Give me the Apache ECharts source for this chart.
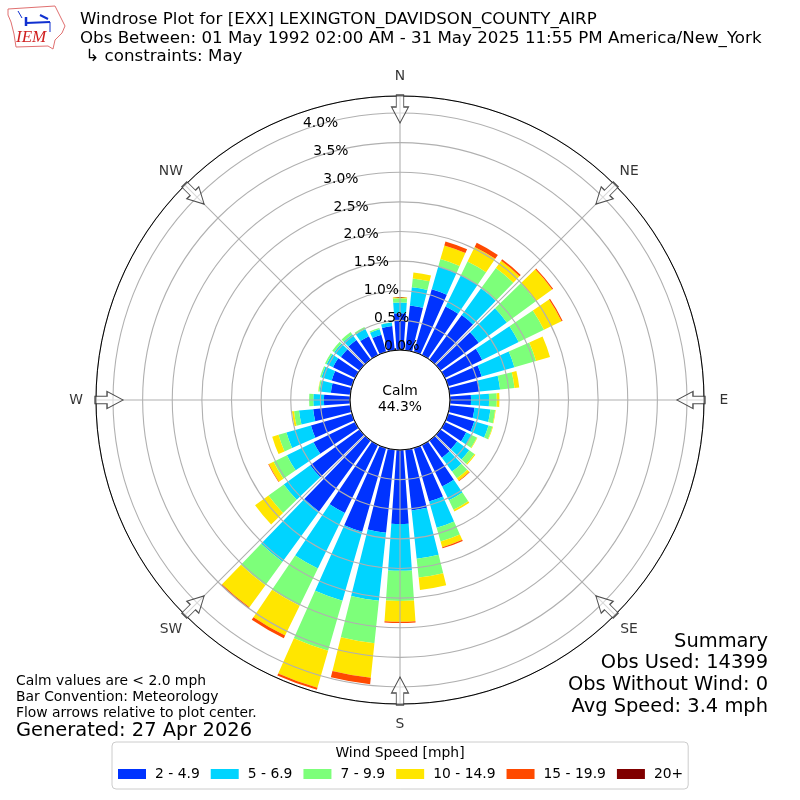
<!DOCTYPE html>
<html><head><meta charset="utf-8">
<script src="https://cdn.jsdelivr.net/npm/echarts@6/dist/echarts.min.js"></script>
<style>html,body{margin:0;padding:0;background:#fff}#c{width:800px;height:800px}</style>
</head><body><div id="c"></div>
<script>
const directions = [0,10,20,30,40,50,60,70,80,90,100,110,120,130,140,150,160,170,180,190,200,210,220,230,240,250,260,270,280,290,300,310,320,330,340,350];
const band1 = [.62,.76,1.10,.91,.93,.80,.70,.59,.51,.355,.42,.46,.40,.35,.36,.78,.94,1.03,1.25,1.41,1.47,1.28,1.48,1.03,.78,.72,.63,.44,.33,.355,.415,.39,.41,.355,.30,.41];
const band2 = [.18,.31,.40,.59,.555,.585,.685,.575,.345,.305,.27,.25,.10,.25,.29,.26,.46,.82,.79,1.155,1.21,1.04,1.05,.55,.50,.43,.24,.18,.19,.18,.12,.14,.115,.135,.10,.06];
const band3 = [.075,.15,.13,.255,.425,.605,.475,.38,.245,.13,.08,.07,.10,.11,.14,.175,.24,.32,.51,.72,.88,.70,.49,.32,.25,.14,.085,.07,.02,.025,.03,.04,.05,.035,.02,.005];
const band4 = [.015,.10,.24,.275,.15,.34,.33,.245,.08,.045,.01,.01,.01,.02,.05,.035,.10,.21,.35,.585,.65,.56,.46,.28,.09,.11,.035,0,.005,0,0,0,0,0,0,0];
const band5 = [0,0,.07,.08,.03,.02,.02,0,0,0,0,0,0,0,.01,0,.02,0,.02,.11,.035,.05,.02,0,.01,0,0,0,0,0,0,0,0,0,0,0];
const band6 = [0,0,0,0,0,0,0,0,0,0,0,0,0,0,0,0,0,0,0,0,0,0,0,0,0,0,0,0,0,0,0,0,0,0,0,0];
const bandNames = ['2 - 4.9','5 - 6.9','7 - 9.9','10 - 14.9','15 - 19.9','20+'];
const bandColors = ['#0033ff','#00d4ff','#7dff7a','#ffe600','#ff4a00','#800000'];
const compass = {0:'N',45:'NE',90:'E',135:'SE',180:'S',225:'SW',270:'W',315:'NW'};
const compassAngles = [0,45,90,135,180,225,270,315];
const titleLines = ['Windrose Plot for [EXX] LEXINGTON_DAVIDSON_COUNTY_AIRP','Obs Between: 01 May 1992 02:00 AM - 31 May 2025 11:55 PM America/New_York',' \u21b3 constraints: May'];
const noteLines = ['Calm values are < 2.0 mph','Bar Convention: Meteorology','Flow arrows relative to plot center.'];
const summaryLines = ['Summary','Obs Used: 14399','Obs Without Wind: 0','Avg Speed: 3.4 mph'];
const FONT = '"DejaVu Sans"';
const GRID = '#b0b0b0';
const RMAX = 4.287, ARROW_R = 4.067, LABEL_R = 4.624;

const bands = [band1,band2,band3,band4,band5,band6];
const series = bands.map((vals,i)=>({
  type:'bar', name:bandNames[i], coordinateSystem:'polar', polarIndex:0, stack:'wind', z:2,
  barWidth:'80%', itemStyle:{color:bandColors[i]}, silent:true, animation:false,
  data:vals.map((v,j)=>[v,directions[j]])
}));
series.push({
  type:'scatter', name:'arrows', coordinateSystem:'polar', polarIndex:0, z:6, clip:false, silent:true,
  symbol:'path://M4.5 0 L11.5 0 L11.5 12 L16 12 L8 28 L0 12 L4.5 12 Z', symbolSize:[17,28], symbolKeepAspect:false,
  symbolRotate:(v,p)=>-p.data[1],
  itemStyle:{color:'rgba(255,255,255,0.65)',borderColor:'#222',borderWidth:1.1},
  data:compassAngles.map(a=>[ARROW_R,a])
});
series.push({
  type:'scatter', name:'compass', coordinateSystem:'polar', polarIndex:0, z:6, clip:false, silent:true,
  symbolSize:1, itemStyle:{color:'transparent'},
  label:{show:true,position:'inside',fontFamily:FONT,fontSize:13.89,color:'#000',formatter:p=>compass[p.data[1]]},
  data:compassAngles.map(a=>[LABEL_R,a])
});

const txt=(x,y,s,size,extra)=>({type:'text',x,y,silent:true,z:20,style:Object.assign({text:s,fontFamily:FONT,fontSize:size,fill:'#000',textVerticalAlign:'middle'},extra||{})});
const graphic=[];
titleLines.forEach((s,i)=>graphic.push(txt(80,20+i*18.4,s,16.67)));
noteLines.forEach((s,i)=>graphic.push(txt(16,681+i*16,s,13.89)));
graphic.push(txt(16,731,'Generated: 27 Apr 2026',19.44));
summaryLines.forEach((s,i)=>graphic.push(txt(768,641.5+i*21.7,s,19.44,{textAlign:'right'})));
graphic.push(txt(400,391.5,'Calm',13.89,{textAlign:'center'}));
graphic.push(txt(400,407.5,'44.3%',13.89,{textAlign:'center'}));
graphic.push(txt(400,753.5,'Wind Speed [mph]',13.89,{textAlign:'center'}));
// logo
const logoStroke={stroke:'#e07070',fill:'none',lineWidth:1};
const blue=w=>({stroke:'#1030d0',fill:'none',lineWidth:w});
graphic.push({type:'polyline',silent:true,z:20,shape:{points:[[8,9],[55,6],[59,14],[65,26],[62,33],[55,40],[53,49],[48,46],[16,47],[14,34],[11,22],[8,15],[8,9]]},style:logoStroke});
graphic.push({type:'polyline',silent:true,z:20,shape:{points:[[26,23],[50,22]]},style:blue(2)});
graphic.push({type:'polyline',silent:true,z:20,shape:{points:[[26,17],[26,26]]},style:blue(2.5)});
graphic.push({type:'polyline',silent:true,z:20,shape:{points:[[18,11],[22,18]]},style:blue(1)});
graphic.push({type:'polyline',silent:true,z:20,shape:{points:[[40,15],[48,19]]},style:blue(2)});
graphic.push({type:'polyline',silent:true,z:20,shape:{points:[[50,22],[50,32]]},style:blue(1)});
graphic.push({type:'text',x:16,y:38,silent:true,z:20,style:{text:'IEM',fontFamily:'"Liberation Serif"',fontStyle:'italic',fontSize:17,fill:'#d02020',textVerticalAlign:'middle'}});

const option={
  animation:false, backgroundColor:'#fff', graphic,
  polar:[{center:[400,400],radius:[50,304]},{center:[400,400],radius:[50,304]}],
  angleAxis:[
    {polarIndex:0,type:'value',min:0,max:360,interval:45,startAngle:90,clockwise:true,z:3,
     axisLine:{lineStyle:{color:'#000',width:1}},axisTick:{show:false},axisLabel:{show:false},
     splitLine:{show:true,lineStyle:{color:GRID,width:1.1}}},
    {polarIndex:1,type:'value',min:0,max:360,startAngle:110,show:false}
  ],
  radiusAxis:[
    {polarIndex:0,type:'value',min:0,max:RMAX,interval:0.5,z:3,
     axisLine:{show:false},axisTick:{show:false},axisLabel:{show:false},
     splitLine:{show:true,lineStyle:{color:GRID,width:1.1}}},
    {polarIndex:1,type:'value',min:0,max:RMAX,interval:0.5,z:7,
     axisLine:{show:false},axisTick:{show:false},splitLine:{show:false},
     axisLabel:{show:true,margin:-20,showMaxLabel:false,fontFamily:FONT,fontSize:13.89,color:'#000',align:'center',verticalAlign:'middle',rotate:0,
       formatter:v=>v.toFixed(1)+'%'}}
  ],
  legend:{data:bandNames,left:112,top:742,orient:'horizontal',itemWidth:28,itemHeight:10,itemGap:11,
    icon:'rect',padding:[25,5,8,6],backgroundColor:'#fff',borderColor:'#ccc',borderWidth:1,borderRadius:4,
    textStyle:{fontFamily:FONT,fontSize:13.89,color:'#000',padding:[0,0,0,4]},selectedMode:false,z:10},
  series
};
const chart=echarts.init(document.getElementById('c'),null,{renderer:'canvas'});
chart.setOption(option);
</script></body></html>
